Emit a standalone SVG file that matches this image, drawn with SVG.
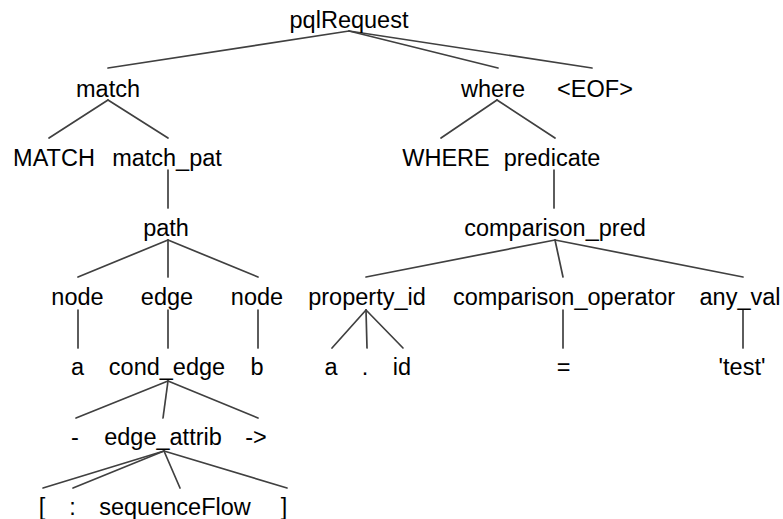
<svg xmlns="http://www.w3.org/2000/svg" width="783" height="519" viewBox="0 0 783 519">
  <style>
    .lbl { font-family: "Liberation Sans", Arial, sans-serif; font-size: 23.5px; fill: #000; text-anchor: middle; }
    .edge { stroke: #404040; stroke-width: 1.7; fill: none; stroke-linecap: round; }
  </style>
  <rect width="783" height="519" fill="#fff"/>

  <!-- parse tree edges: parent bottom to child top -->
  <g id="connectors">
    <line class="edge" x1="349" y1="31" x2="108" y2="68"/>
    <line class="edge" x1="349" y1="31" x2="498" y2="68"/>
    <line class="edge" x1="349" y1="31" x2="592" y2="68"/>

    <line class="edge" x1="108" y1="100" x2="49" y2="138"/>
    <line class="edge" x1="108" y1="100" x2="168" y2="138"/>
    <line class="edge" x1="497" y1="100" x2="441" y2="138"/>
    <line class="edge" x1="497" y1="100" x2="555" y2="138"/>

    <line class="edge" x1="168" y1="170" x2="168" y2="208"/>
    <line class="edge" x1="554" y1="170" x2="554" y2="208"/>

    <line class="edge" x1="168" y1="240" x2="78" y2="277"/>
    <line class="edge" x1="168" y1="240" x2="168" y2="277"/>
    <line class="edge" x1="168" y1="240" x2="258" y2="277"/>
    <line class="edge" x1="555" y1="240" x2="366" y2="277"/>
    <line class="edge" x1="555" y1="240" x2="563" y2="277"/>
    <line class="edge" x1="555" y1="240" x2="743" y2="277"/>

    <line class="edge" x1="78" y1="310" x2="78" y2="348"/>
    <line class="edge" x1="168" y1="310" x2="168" y2="348"/>
    <line class="edge" x1="258" y1="310" x2="258" y2="348"/>
    <line class="edge" x1="366" y1="310" x2="332" y2="348"/>
    <line class="edge" x1="366" y1="310" x2="367" y2="348"/>
    <line class="edge" x1="366" y1="310" x2="403" y2="348"/>
    <line class="edge" x1="563" y1="310" x2="563" y2="348"/>
    <line class="edge" x1="743" y1="310" x2="743" y2="348"/>

    <line class="edge" x1="168" y1="381" x2="76" y2="418"/>
    <line class="edge" x1="168" y1="381" x2="163" y2="418"/>
    <line class="edge" x1="168" y1="381" x2="258" y2="418"/>

    <line class="edge" x1="164" y1="451" x2="43" y2="488"/>
    <line class="edge" x1="164" y1="451" x2="73" y2="488"/>
    <line class="edge" x1="164" y1="451" x2="180" y2="488"/>
    <line class="edge" x1="164" y1="451" x2="287" y2="488"/>
  </g>

  <!-- nodes -->
  <g id="n-pqlRequest"><text class="lbl" x="349" y="28">pqlRequest</text></g>

  <g id="n-match"><text class="lbl" x="108" y="97">match</text></g>
  <g id="n-where"><text class="lbl" x="493" y="97">where</text></g>
  <g id="n-eof"><text class="lbl" x="595" y="97">&lt;EOF&gt;</text></g>

  <g id="n-MATCH"><text class="lbl" x="54" y="166">MATCH</text></g>
  <g id="n-match_pat"><text class="lbl" x="167" y="166">match_pat</text></g>
  <g id="n-WHERE"><text class="lbl" x="446" y="166">WHERE</text></g>
  <g id="n-predicate"><text class="lbl" x="552" y="166">predicate</text></g>

  <g id="n-path"><text class="lbl" x="166" y="236">path</text></g>
  <g id="n-comparison_pred"><text class="lbl" x="555" y="236">comparison_pred</text></g>

  <g id="n-node1"><text class="lbl" x="77.5" y="305">node</text></g>
  <g id="n-edge"><text class="lbl" x="167" y="305">edge</text></g>
  <g id="n-node2"><text class="lbl" x="257" y="305">node</text></g>
  <g id="n-property_id"><text class="lbl" x="367" y="305">property_id</text></g>
  <g id="n-comparison_operator"><text class="lbl" x="564" y="305">comparison_operator</text></g>
  <g id="n-any_val"><text class="lbl" x="740" y="305">any_val</text></g>

  <g id="n-a1"><text class="lbl" x="77.5" y="375">a</text></g>
  <g id="n-cond_edge"><text class="lbl" x="167" y="375">cond_edge</text></g>
  <g id="n-b"><text class="lbl" x="257" y="375">b</text></g>
  <g id="n-a2"><text class="lbl" x="331" y="375">a</text></g>
  <g id="n-dot"><text class="lbl" x="365" y="375">.</text></g>
  <g id="n-id"><text class="lbl" x="402" y="375">id</text></g>
  <g id="n-eq"><text class="lbl" x="563.5" y="375">=</text></g>
  <g id="n-test"><text class="lbl" x="742" y="375">'test'</text></g>

  <g id="n-dash"><text class="lbl" x="75" y="445">-</text></g>
  <g id="n-edge_attrib"><text class="lbl" x="163" y="445">edge_attrib</text></g>
  <g id="n-arrow"><text class="lbl" x="256" y="445">-&gt;</text></g>

  <g id="n-lbrack"><text class="lbl" x="42" y="515">[</text></g>
  <g id="n-colon"><text class="lbl" x="72.5" y="515">:</text></g>
  <g id="n-sequenceFlow"><text class="lbl" x="175" y="515">sequenceFlow</text></g>
  <g id="n-rbrack"><text class="lbl" x="284" y="515">]</text></g>
</svg>
